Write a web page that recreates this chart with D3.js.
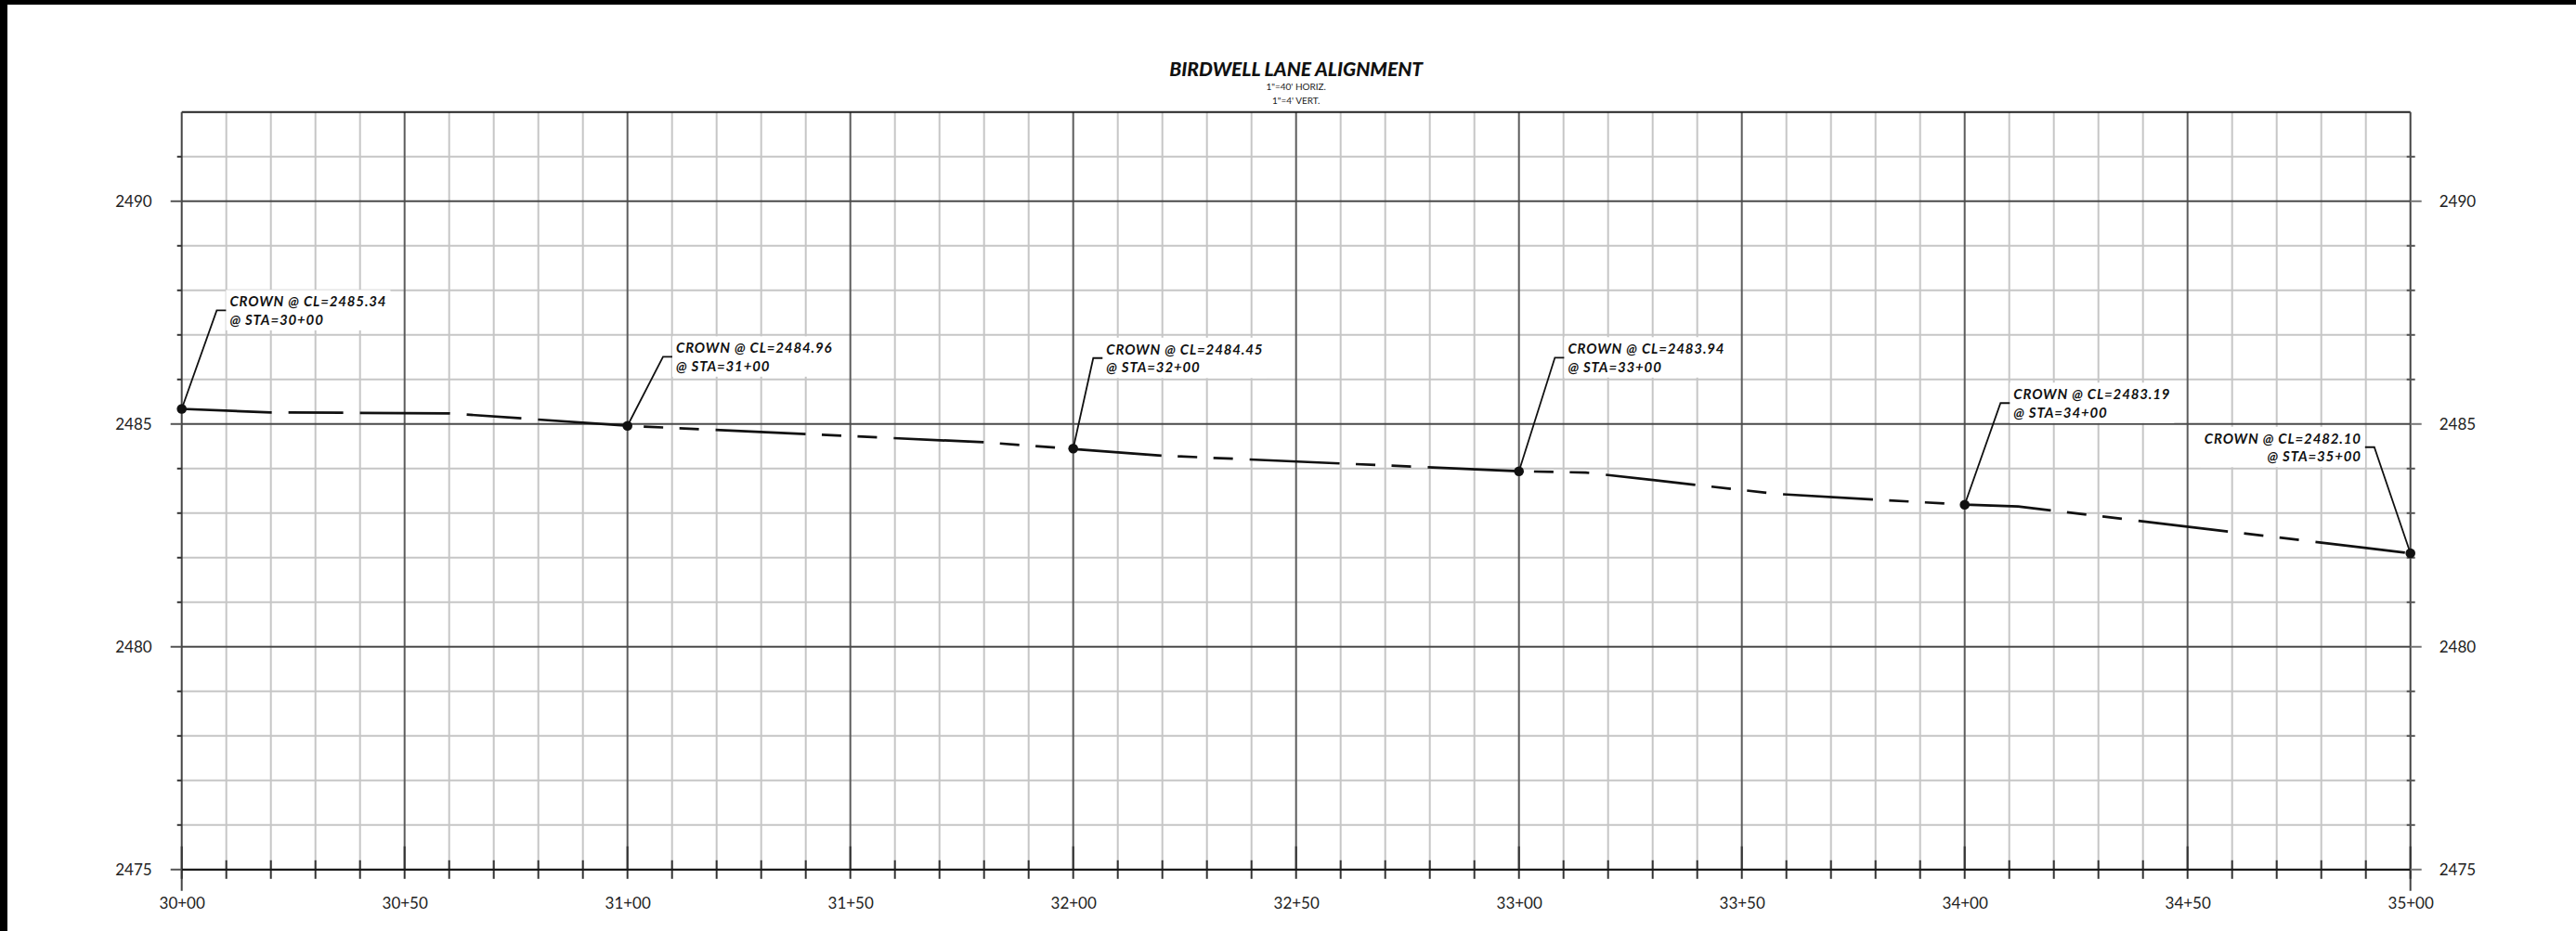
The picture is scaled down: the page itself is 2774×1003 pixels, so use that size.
<!DOCTYPE html>
<html>
<head>
<meta charset="utf-8">
<script src="https://cdn.jsdelivr.net/npm/d3@7"></script>
<style>
  html, body { margin: 0; padding: 0; background: #fff; }
  svg { display: block; }
</style>
</head>
<body>
<svg id="chart" width="2774" height="1003"></svg>
<script>
// ---------- DATA ----------
const title = "BIRDWELL LANE ALIGNMENT";
const subtitle = ["1\"=40' HORIZ.", "1\"=4' VERT."];

// stations (ft) and elevations of the crown profile
const profileSta  = [3000, 3020, 3060, 3100, 3180, 3220, 3300, 3315, 3358, 3400, 3412, 3500];
const profileElev = [2485.34, 2485.26, 2485.24, 2484.96, 2484.59, 2484.29, 2483.94, 2483.91, 2483.43, 2483.19, 2483.15, 2482.10];

// labelled crown points
const crownSta  = [3000, 3100, 3200, 3300, 3400, 3500];
const crownElev = [2485.34, 2484.96, 2484.45, 2483.94, 2483.19, 2482.10];
const crownLabel1 = ["CROWN @ CL=2485.34", "CROWN @ CL=2484.96", "CROWN @ CL=2484.45", "CROWN @ CL=2483.94", "CROWN @ CL=2483.19", "CROWN @ CL=2482.10"];
const crownLabel2 = ["@ STA=30+00", "@ STA=31+00", "@ STA=32+00", "@ STA=33+00", "@ STA=34+00", "@ STA=35+00"];
// callout elbow (leader top) in data units
const calloutSta  = [3007.85, 3107.98, 3204.5, 3308.06, 3408.04, 3491.9];
const calloutElev = [2487.55, 2486.51, 2486.48, 2486.49, 2485.47, 2484.48];

// axes
const staTicks  = [3000, 3050, 3100, 3150, 3200, 3250, 3300, 3350, 3400, 3450, 3500];
const elevTicks = [2475, 2480, 2485, 2490];
const staDomain  = [3000, 3500];
const elevDomain = [2475, 2492];

// ---------- DRAW ----------
const svg = d3.select("#chart");
const FONT = "Lato, 'Open Sans', sans-serif";

svg.append("rect").attr("width", 2774).attr("height", 1003).attr("fill", "#fff");
// sheet border pieces
svg.append("rect").attr("x", 0).attr("y", 0).attr("width", 2774).attr("height", 5).attr("fill", "#000");
svg.append("rect").attr("x", 0).attr("y", 0).attr("width", 8).attr("height", 1003).attr("fill", "#000");

const x = d3.scaleLinear().domain(staDomain).range([195.7, 2595.7]);
const y = d3.scaleLinear().domain(elevDomain).range([936.8, 120.8]);

const fmtSta = s => Math.floor(s / 100) + "+" + String(Math.round(s % 100)).padStart(2, "0");

// grid
const g = svg.append("g");
const minorX = d3.range(staDomain[0] + 10, staDomain[1], 10).filter(s => s % 50 !== 0);
const majorX = d3.range(staDomain[0] + 50, staDomain[1], 50);
const minorY = d3.range(elevDomain[0] + 1, elevDomain[1], 1).filter(v => v % 5 !== 0);
const majorY = d3.range(elevDomain[0] + 5, elevDomain[1], 5);

g.selectAll(".mx").data(minorX).join("line")
  .attr("x1", d => x(d)).attr("x2", d => x(d)).attr("y1", y(elevDomain[1])).attr("y2", y(elevDomain[0]))
  .attr("stroke", "#c6c6c6").attr("stroke-width", 2);
g.selectAll(".my").data(minorY).join("line")
  .attr("x1", x(staDomain[0])).attr("x2", x(staDomain[1])).attr("y1", d => y(d)).attr("y2", d => y(d))
  .attr("stroke", "#c6c6c6").attr("stroke-width", 2);
g.selectAll(".Mx").data(majorX).join("line")
  .attr("x1", d => x(d)).attr("x2", d => x(d)).attr("y1", y(elevDomain[1])).attr("y2", y(elevDomain[0]))
  .attr("stroke", "#5c5c5c").attr("stroke-width", 2);
g.selectAll(".My").data(majorY).join("line")
  .attr("x1", x(staDomain[0])).attr("x2", x(staDomain[1])).attr("y1", d => y(d)).attr("y2", d => y(d))
  .attr("stroke", "#4a4a4a").attr("stroke-width", 2);

// frame
g.append("line").attr("x1", x(staDomain[0])).attr("x2", x(staDomain[1])).attr("y1", y(elevDomain[1])).attr("y2", y(elevDomain[1]))
  .attr("stroke", "#222").attr("stroke-width", 2);
g.append("line").attr("x1", x(staDomain[0])).attr("x2", x(staDomain[0])).attr("y1", y(elevDomain[1])).attr("y2", y(elevDomain[0]) + 23)
  .attr("stroke", "#444").attr("stroke-width", 2);
g.append("line").attr("x1", x(staDomain[1])).attr("x2", x(staDomain[1])).attr("y1", y(elevDomain[1])).attr("y2", y(elevDomain[0]) + 23)
  .attr("stroke", "#444").attr("stroke-width", 2);

// bottom axis (ticks every 10 ft)
const allX = d3.range(staDomain[0], staDomain[1] + 1, 10);
g.selectAll(".bt").data(allX).join("line")
  .attr("x1", d => x(d)).attr("x2", d => x(d))
  .attr("y1", d => y(elevDomain[0]) - (d % 50 === 0 ? 25 : 10)).attr("y2", y(elevDomain[0]) + 10)
  .attr("stroke", "#333").attr("stroke-width", 2);
g.append("line").attr("x1", x(staDomain[0])).attr("x2", x(staDomain[1])).attr("y1", y(elevDomain[0])).attr("y2", y(elevDomain[0]))
  .attr("stroke", "#1a1a1a").attr("stroke-width", 2.2);

svg.append("g").attr("transform", `translate(0,${y(elevDomain[0])})`)
  .call(d3.axisBottom(x).tickValues(staTicks).tickFormat(fmtSta).tickSize(0).tickPadding(30))
  .call(a => a.select(".domain").remove())
  .call(a => a.selectAll("text").attr("font-family", FONT).attr("font-size", 17).attr("fill", "#222"));

// left / right axis ticks
const allY = d3.range(elevDomain[0], elevDomain[1], 1);
g.selectAll(".lt").data(allY).join("line")
  .attr("x1", d => x(staDomain[0]) - (d % 5 === 0 ? 12 : 5)).attr("x2", x(staDomain[0]))
  .attr("y1", d => y(d)).attr("y2", d => y(d))
  .attr("stroke", d => d % 5 === 0 ? "#555" : "#333").attr("stroke-width", 2);
g.selectAll(".rt").data(allY).join("line")
  .attr("x1", d => x(staDomain[1]) - (d % 5 === 0 ? 0 : 4)).attr("x2", d => x(staDomain[1]) + (d % 5 === 0 ? 12 : 5))
  .attr("y1", d => y(d)).attr("y2", d => y(d))
  .attr("stroke", d => d % 5 === 0 ? "#777" : "#555").attr("stroke-width", 2);

svg.append("g").attr("transform", `translate(${x(staDomain[0]) - 12},0)`)
  .call(d3.axisLeft(y).tickValues(elevTicks).tickFormat(d3.format("d")).tickSize(0).tickPadding(20))
  .call(a => a.select(".domain").remove())
  .call(a => a.selectAll("text").attr("font-family", FONT).attr("font-size", 17).attr("fill", "#222"));
svg.append("g").attr("transform", `translate(${x(staDomain[1]) + 12},0)`)
  .call(d3.axisRight(y).tickValues(elevTicks).tickFormat(d3.format("d")).tickSize(0).tickPadding(19))
  .call(a => a.select(".domain").remove())
  .call(a => a.selectAll("text").attr("font-family", FONT).attr("font-size", 17).attr("fill", "#222"));

// title
const cx = (x(staDomain[0]) + x(staDomain[1])) / 2;
svg.append("text").attr("x", cx).attr("y", 81.5).attr("text-anchor", "middle")
  .attr("font-family", FONT).attr("font-size", 21).attr("font-weight", 900).attr("font-style", "italic")
  .attr("fill", "#111").text(title);
subtitle.forEach((s, i) => {
  svg.append("text").attr("x", cx).attr("y", 96.7 + i * 15).attr("text-anchor", "middle")
    .attr("font-family", FONT).attr("font-size", 10).attr("fill", "#222").text(s);
});

// callouts
const labels = crownSta.map((s, i) => ({
  px: x(s), py: y(crownElev[i]),
  tx: x(calloutSta[i]), ty: y(calloutElev[i]),
  dir: calloutSta[i] >= s ? 1 : -1,
  l1: crownLabel1[i], l2: crownLabel2[i]
}));

const boxLayer = svg.append("g");
const lineLayer = svg.append("g");
const leaderLayer = svg.append("g");
const textLayer = svg.append("g");

labels.forEach(d => {
  const tg = textLayer.append("g");
  const tx = d.tx + d.dir * 14;
  const anchor = d.dir > 0 ? "start" : "end";
  [d.l1, d.l2].forEach((t, k) => {
    tg.append("text").attr("x", tx).attr("y", d.ty - 4 + k * 19.5)
      .attr("text-anchor", anchor)
      .attr("font-family", FONT).attr("font-size", 15).attr("font-weight", 700).attr("font-style", "italic")
      .attr("letter-spacing", 0.85)
      .attr("fill", "#111").text(t);
  });
  const bb = tg.node().getBBox();
  boxLayer.append("rect").attr("x", bb.x - 4).attr("y", bb.y - 3).attr("width", bb.width + 8).attr("height", bb.height + 6)
    .attr("fill", "#fff");
  leaderLayer.append("path")
    .attr("d", `M${d.px},${d.py}L${d.tx},${d.ty}L${d.tx + d.dir * 10},${d.ty}`)
    .attr("fill", "none").attr("stroke", "#111").attr("stroke-width", 1.8);
});

// profile line (phantom-style dashes)
const pts = profileSta.map((s, i) => ({ s, e: profileElev[i] }));
const line = d3.line().x(d => x(d.s)).y(d => y(d.e));
lineLayer.append("path").datum(pts.filter(d => d.s <= 3100))
  .attr("d", line).attr("fill", "none").attr("stroke", "#111").attr("stroke-width", 2.7)
  .attr("stroke-dasharray", "97,18,59,18");
lineLayer.append("path").datum(pts.filter(d => d.s >= 3100))
  .attr("d", line).attr("fill", "none").attr("stroke", "#111").attr("stroke-width", 2.7)
  .attr("stroke-dasharray", "97,17.5,21,17.5,21,18").attr("stroke-dashoffset", 97);

// crown dots
leaderLayer.selectAll("circle").data(labels).join("circle")
  .attr("cx", d => d.px).attr("cy", d => d.py).attr("r", 5.3).attr("fill", "#111");
</script>
</body>
</html>
